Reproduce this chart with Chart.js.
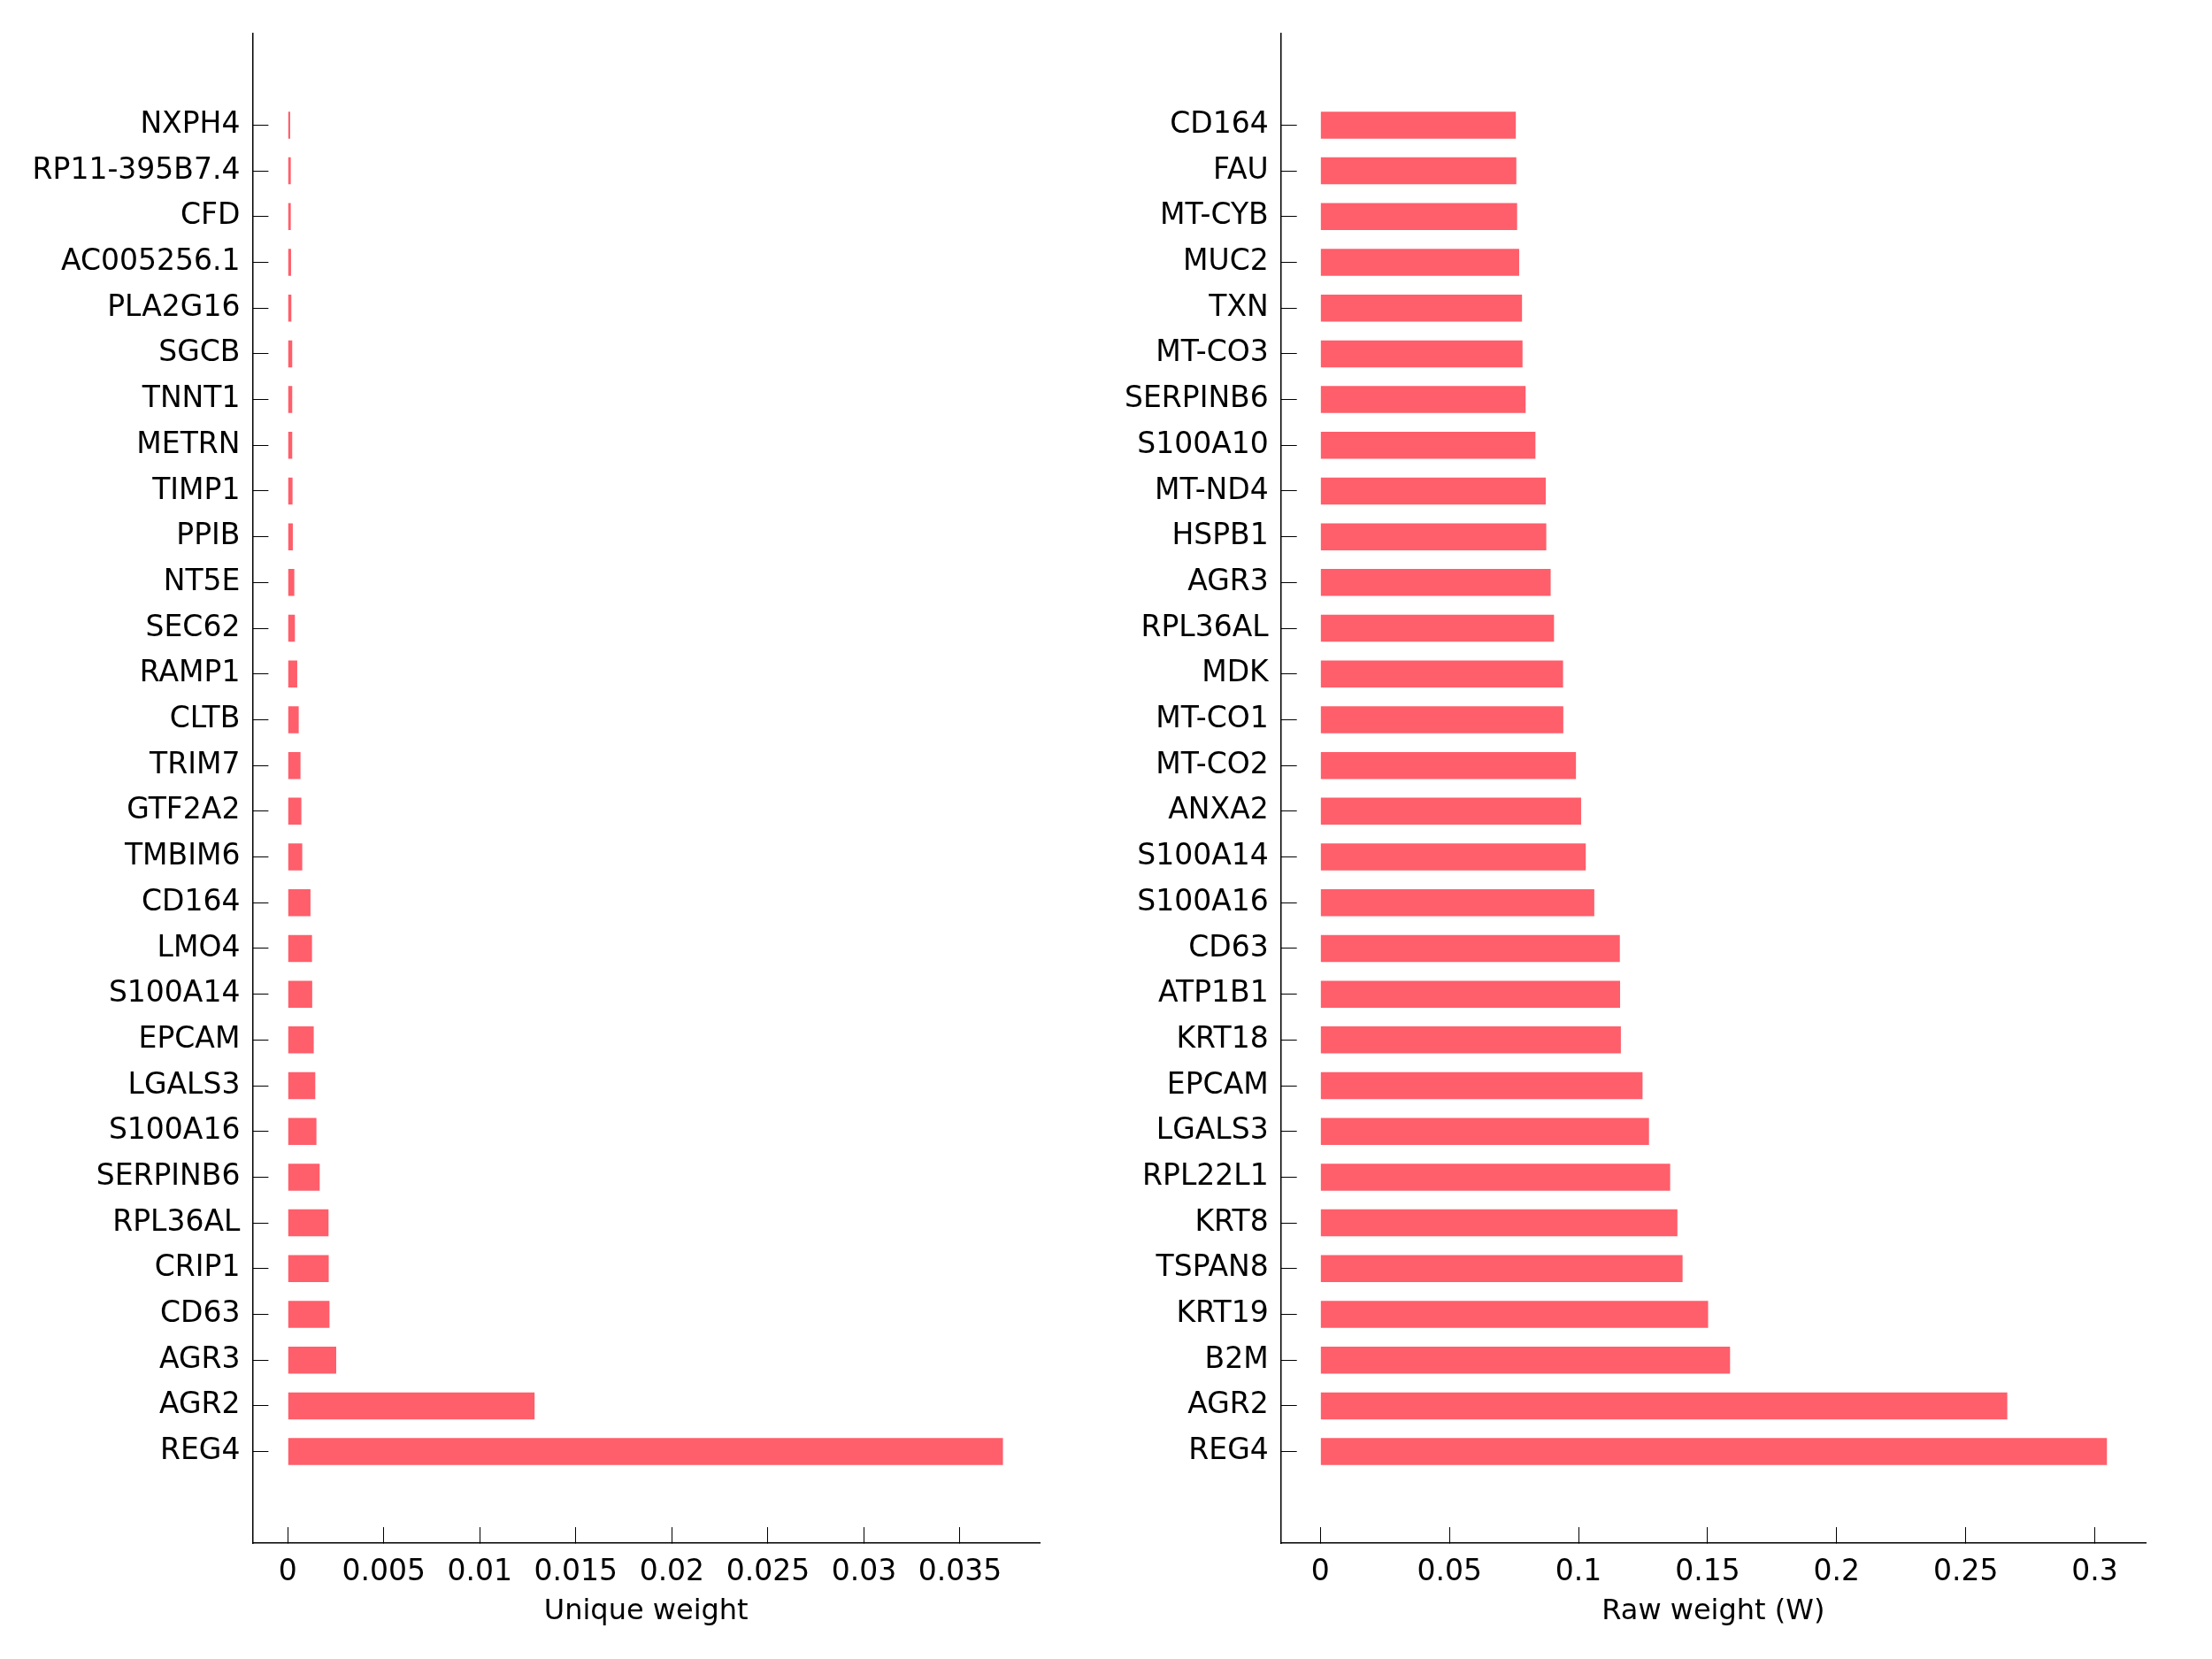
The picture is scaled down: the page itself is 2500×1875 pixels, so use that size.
<!DOCTYPE html>
<html>
<head>
<meta charset="utf-8">
<script src="https://cdn.jsdelivr.net/npm/chart.js@4.4.1/dist/chart.umd.min.js"></script>
<style>
  html, body { margin: 0; padding: 0; background: #fff; }
  .panel { position: absolute; top: 0; width: 1250px; height: 1875px; }
</style>
</head>
<body>
<div class="panel" style="left:0"><canvas id="uniqueChart" width="1250" height="1875"></canvas></div>
<div class="panel" style="left:1250px"><canvas id="rawChart" width="1250" height="1875"></canvas></div>
<script>
// left panel: unique weight
const uniqueGenes = ['NXPH4', 'RP11-395B7.4', 'CFD', 'AC005256.1', 'PLA2G16', 'SGCB', 'TNNT1', 'METRN',
  'TIMP1', 'PPIB', 'NT5E', 'SEC62', 'RAMP1', 'CLTB', 'TRIM7', 'GTF2A2', 'TMBIM6', 'CD164', 'LMO4',
  'S100A14', 'EPCAM', 'LGALS3', 'S100A16', 'SERPINB6', 'RPL36AL', 'CRIP1', 'CD63', 'AGR3', 'AGR2', 'REG4'];
const uniqueWeights = [0.000123, 0.000154, 0.000154, 0.000169, 0.000184, 0.00023, 0.00023, 0.00023,
  0.000246, 0.000261, 0.000338, 0.000369, 0.000491, 0.000568, 0.00066, 0.000706, 0.000752, 0.00118, 0.00126,
  0.00127, 0.00135, 0.00143, 0.00149, 0.00166, 0.00212, 0.00213, 0.00217, 0.00252, 0.01285, 0.03724];
const uniqueTicks = [0, 0.005, 0.01, 0.015, 0.02, 0.025, 0.03, 0.035];
const uniqueTickLabels = ['0', '0.005', '0.01', '0.015', '0.02', '0.025', '0.03', '0.035'];

// right panel: raw weight
const rawGenes = ['CD164', 'FAU', 'MT-CYB', 'MUC2', 'TXN', 'MT-CO3', 'SERPINB6', 'S100A10', 'MT-ND4',
  'HSPB1', 'AGR3', 'RPL36AL', 'MDK', 'MT-CO1', 'MT-CO2', 'ANXA2', 'S100A14', 'S100A16', 'CD63', 'ATP1B1',
  'KRT18', 'EPCAM', 'LGALS3', 'RPL22L1', 'KRT8', 'TSPAN8', 'KRT19', 'B2M', 'AGR2', 'REG4'];
const rawWeights = [0.0757, 0.0759, 0.0762, 0.0770, 0.0781, 0.0783, 0.0795, 0.0833, 0.0873,
  0.0875, 0.0892, 0.0905, 0.0940, 0.0941, 0.0990, 0.1010, 0.1028, 0.1061, 0.1160, 0.1161,
  0.1164, 0.1248, 0.1273, 0.1355, 0.1383, 0.1403, 0.1502, 0.1587, 0.2661, 0.3047];
const rawTicks = [0, 0.05, 0.1, 0.15, 0.2, 0.25, 0.3];
const rawTickLabels = ['0', '0.05', '0.1', '0.15', '0.2', '0.25', '0.3'];

const PAD = 2; // empty slots above and below the bars
const padLabels = arr => [...Array(PAD).fill(''), ...arr, ...Array(PAD).fill('')];
const padValues = arr => [...Array(PAD).fill(null), ...arr, ...Array(PAD).fill(null)];

const FONT = 'DejaVu Sans';
const BAR_COLOR = '#ff5e6b';

function noPadding(s) {
  s.paddingTop = 0; s.paddingBottom = 0; s.paddingLeft = 0; s.paddingRight = 0;
}

function makeChart(id, genes, values, ticks, tickLabels, title, axisLeft, xMin, xMax) {
  const n = genes.length;
  return new Chart(document.getElementById(id), {
    type: 'bar',
    data: {
      labels: padLabels(genes),
      datasets: [{
        data: padValues(values),
        backgroundColor: BAR_COLOR,
        borderWidth: 0,
        barPercentage: 0.59,
        categoryPercentage: 1
      }]
    },
    options: {
      indexAxis: 'y',
      responsive: false,
      animation: false,
      devicePixelRatio: 1,
      layout: { padding: { top: 38, right: 75, bottom: 0, left: 0 } },
      plugins: { legend: { display: false }, tooltip: { enabled: false } },
      scales: {
        y: {
          type: 'category',
          offset: false,
          border: { display: true, color: '#000', width: 1.5 },
          grid: {
            offset: false,
            drawOnChartArea: false,
            drawTicks: true,
            tickLength: -18,
            tickWidth: 1,
            tickColor: c => (c.index < PAD || c.index >= PAD + n) ? 'rgba(0,0,0,0)' : '#000'
          },
          ticks: {
            autoSkip: false,
            padding: 32,
            color: '#000',
            font: { family: FONT, size: 33 }
          },
          afterFit: s => { s.width = axisLeft; noPadding(s); }
        },
        x: {
          type: 'linear',
          min: xMin,
          max: xMax,
          border: { display: true, color: '#000', width: 1.5 },
          grid: {
            drawOnChartArea: false,
            drawTicks: true,
            tickLength: -18,
            tickWidth: 1,
            tickColor: '#000'
          },
          afterBuildTicks: s => { s.ticks = ticks.map(v => ({ value: v })); },
          ticks: {
            autoSkip: false,
            maxRotation: 0,
            padding: 32,
            color: '#000',
            font: { family: FONT, size: 33 },
            callback: (v, i) => tickLabels[i]
          },
          title: {
            display: true,
            text: title,
            color: '#000',
            font: { family: FONT, size: 32 },
            padding: { top: 0, bottom: 34 }
          },
          afterFit: s => { s.height = 131; noPadding(s); }
        }
      }
    }
  });
}

makeChart('uniqueChart', uniqueGenes, uniqueWeights, uniqueTicks, uniqueTickLabels,
  'Unique weight', 285.4, -0.001838, 0.03915);
makeChart('rawChart', rawGenes, rawWeights, rawTicks, rawTickLabels,
  'Raw weight (W)', 197.7, -0.0153, 0.3197);
</script>
</body>
</html>
